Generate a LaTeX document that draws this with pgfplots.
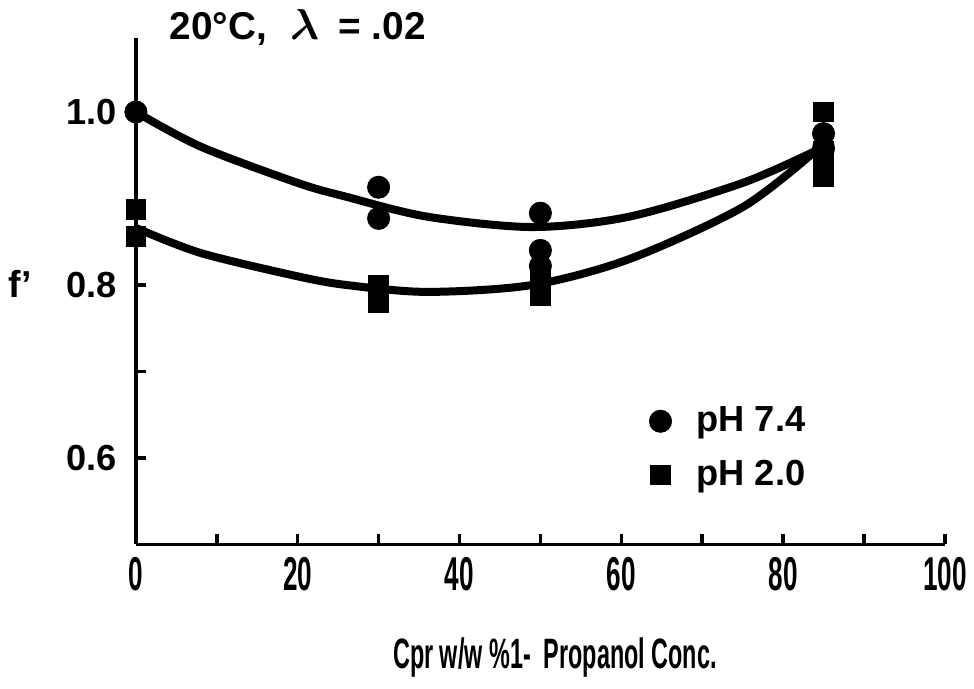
\documentclass[border=0pt]{standalone}
\usepackage{pgfplots}
\usepackage{amsmath}
\usepackage{fontspec}
\pgfplotsset{compat=1.18}
\setmainfont{Liberation Sans}
\newfontfamily\narrow{Liberation Sans}[FakeStretch=0.55]

\begin{document}
\begin{tikzpicture}
\begin{axis}[
    scale only axis,
    width=323.6pt,
    height=202.4pt,
    xmin=0, xmax=100,
    ymin=0.5, ymax=1.085,
    clip=false,
    axis lines*=left,
    axis line style={line width=1.4pt},
    tick style={line width=1.4pt, black},
    tick align=inside,
    major tick length=4pt,
    xtick={0,10,...,100},
    xticklabels={0,,20,,40,,60,,80,,100},
    ytick={0.6,0.7,0.8,1.0},
    yticklabels={0.6,,0.8,1.0},
    /pgf/number format/assume math mode=true,
    xticklabel style={font=\narrow\bfseries\fontsize{19}{21}\selectfont, yshift=-1.5pt},
    yticklabel style={font=\bfseries\fontsize{14.5}{17}\selectfont, xshift=-4pt},
    title={20°C,\hspace{0.6em}{\boldmath\fontsize{18}{20}\selectfont$\lambda$}\hspace{0.5em}= .02},
    title style={font=\bfseries\fontsize{15.5}{18}\selectfont, at={(0.200,1.017)}, anchor=center, yshift=-5pt},
    ylabel={f’},
    ylabel style={font=\bfseries\fontsize{15}{18}\selectfont, rotate=-90, at={(-0.143,0.515)}, anchor=center},
    xlabel={Cpr w/w \%1-\ \ Propanol Conc.},
    xlabel style={font=\narrow\bfseries\fontsize{17}{19}\selectfont, at={(0.518,-0.224)}, anchor=center},
    legend style={draw=none, fill=none, at={(0.625,0.19)}, anchor=west,
        font=\bfseries\fontsize{14.5}{17}\selectfont, row sep=6pt},
    legend cell align=left,
]
    % fitted curves
    \addplot[line width=3.2pt, smooth, forget plot] coordinates {
        (0,1.0) (8,0.96) (20,0.918) (26,0.902) (36,0.879) (49,0.867)
        (61,0.879) (75,0.918) (84,0.955)
    };
    \addplot[line width=3.2pt, smooth, forget plot] coordinates {
        (0,0.866) (8,0.837) (20,0.81) (26,0.80) (36,0.792) (49,0.80)
        (61,0.83) (75,0.89) (84,0.955)
    };

    % measured points
    \addplot[only marks, mark=*, mark size=4.4pt, black] coordinates {
        (0,1.0) (30,0.913) (30,0.877) (50,0.883) (50,0.84) (50,0.822)
        (85,0.975) (85,0.958)
    };
    \addlegendentry{\hspace*{8pt}pH 7.4}
    \addplot[only marks, mark=square*, mark size=3.9pt, black] coordinates {
        (0,0.887) (0,0.856) (30,0.80) (30,0.78) (50,0.81) (50,0.795) (50,0.787)
        (85,1.0) (85,0.955) (85,0.94) (85,0.925)
    };
    \addlegendentry{\hspace*{8pt}pH 2.0}

    \coordinate (bbA) at (axis cs:-16.8,0.333);
    \coordinate (bbB) at (axis cs:103.6,1.1295);
\end{axis}
% picture extent
\pgfresetboundingbox
\path (bbA) rectangle (bbB);
\end{tikzpicture}
\end{document}
